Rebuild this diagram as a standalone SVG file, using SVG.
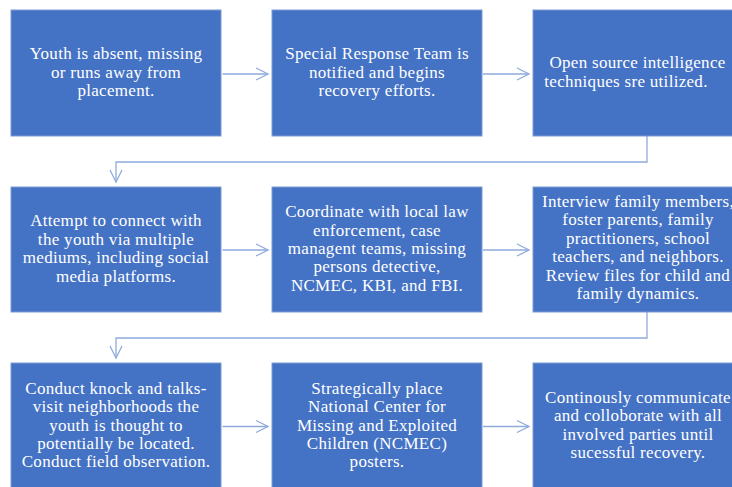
<svg xmlns="http://www.w3.org/2000/svg" width="732" height="487" viewBox="0 0 732 487">
<style>
.box{fill:#4472C4;stroke:#7d9bd4;stroke-width:1}
.t{font-family:"Liberation Serif","Times New Roman",serif;font-size:17px;letter-spacing:0.3px;fill:#ffffff;text-anchor:middle}
.c{fill:none;stroke:#8FAADC;stroke-width:1.3}
</style>
<defs>
<marker id="ah" markerUnits="userSpaceOnUse" markerWidth="14" markerHeight="14" refX="12" refY="6" orient="auto" overflow="visible">
<path d="M0,0 L12,6 L0,12" fill="none" stroke="#8FAADC" stroke-width="1.3"/>
</marker>
</defs>
<rect width="732" height="487" fill="#ffffff"/>
<g id="connectors">
<path class="c" d="M222.5,74 H268" marker-end="url(#ah)"/>
<path class="c" d="M483,74 H529" marker-end="url(#ah)"/>
<path class="c" d="M647,136 V162 H116 V182" marker-end="url(#ah)"/>
<path class="c" d="M222.5,250 H268" marker-end="url(#ah)"/>
<path class="c" d="M483,250 H529" marker-end="url(#ah)"/>
<path class="c" d="M647,312 V338 H116 V358" marker-end="url(#ah)"/>
<path class="c" d="M222.5,426.5 H268" marker-end="url(#ah)"/>
<path class="c" d="M483,426.5 H529" marker-end="url(#ah)"/>
</g>
<g id="n1">
<rect class="box" x="11" y="10" width="210" height="126"/>
<text class="t" x="116" y="59.1">Youth is absent, missing</text>
<text class="t" x="116" y="77.5">or runs away from</text>
<text class="t" x="116" y="95.9">placement.</text>
</g>
<g id="n2">
<rect class="box" x="272" y="10" width="210" height="126"/>
<text class="t" x="377" y="59.1">Special Response Team is</text>
<text class="t" x="377" y="77.5">notified and begins</text>
<text class="t" x="377" y="95.9">recovery efforts.</text>
</g>
<g id="n3">
<rect class="box" x="533" y="10" width="210" height="126"/>
<text class="t" x="637.5" y="68.3">Open source intelligence</text>
<text class="t" x="626" y="86.7">techniques sre utilized.</text>
</g>
<g id="n4">
<rect class="box" x="11" y="187" width="210" height="125"/>
<text class="t" x="116" y="226.4">Attempt to connect with</text>
<text class="t" x="116" y="244.8">the youth via multiple</text>
<text class="t" x="116" y="263.2">mediums, including social</text>
<text class="t" x="116" y="281.6">media platforms.</text>
</g>
<g id="n5">
<rect class="box" x="272" y="187" width="210" height="125"/>
<text class="t" x="377" y="217.2">Coordinate with local law</text>
<text class="t" x="377" y="235.6">enforcement, case</text>
<text class="t" x="377" y="254">managent teams, missing</text>
<text class="t" x="377" y="272.4">persons detective,</text>
<text class="t" x="377" y="290.8">NCMEC, KBI, and FBI.</text>
</g>
<g id="n6">
<rect class="box" x="533" y="187" width="210" height="125"/>
<text class="t" x="638" y="207">Interview family members,</text>
<text class="t" x="638" y="225.4">foster parents, family</text>
<text class="t" x="638" y="243.8">practitioners, school</text>
<text class="t" x="638" y="262.2">teachers, and neighbors.</text>
<text class="t" x="638" y="280.6">Review files for child and</text>
<text class="t" x="638" y="299">family dynamics.</text>
</g>
<g id="n7">
<rect class="box" x="11" y="363" width="210" height="126"/>
<text class="t" x="116" y="393.7">Conduct knock and talks-</text>
<text class="t" x="116" y="412.1">visit neighborhoods the</text>
<text class="t" x="116" y="430.5">youth is thought to</text>
<text class="t" x="116" y="448.9">potentially be located.</text>
<text class="t" x="116" y="467.3">Conduct field observation.</text>
</g>
<g id="n8">
<rect class="box" x="272" y="363" width="210" height="126"/>
<text class="t" x="377" y="393.7">Strategically place</text>
<text class="t" x="377" y="412.1">National Center for</text>
<text class="t" x="377" y="430.5">Missing and Exploited</text>
<text class="t" x="377" y="448.9">Children (NCMEC)</text>
<text class="t" x="377" y="467.3">posters.</text>
</g>
<g id="n9">
<rect class="box" x="533" y="363" width="210" height="126"/>
<text class="t" x="638" y="402.9">Continously communicate</text>
<text class="t" x="638" y="421.3">and colloborate with all</text>
<text class="t" x="638" y="439.7">involved parties until</text>
<text class="t" x="638" y="458.1">sucessful recovery.</text>
</g>
</svg>
